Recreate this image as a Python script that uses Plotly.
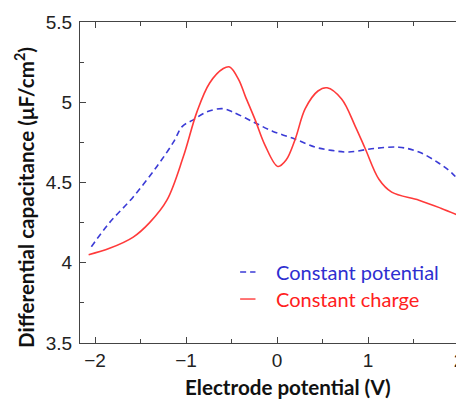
import plotly.graph_objects as go

# Constant potential (blue dashed)
pot_x = [-2.04, -1.84, -1.58, -1.32, -1.14, -1.04, -0.92, -0.77, -0.6, -0.49, -0.27,
         -0.05, 0.2, 0.42, 0.6, 0.79, 1.04, 1.34, 1.56, 1.78, 1.92, 2.06]
pot_y = [4.10, 4.25, 4.41, 4.60, 4.75, 4.85, 4.89, 4.94, 4.96, 4.94, 4.88,
         4.82, 4.77, 4.72, 4.70, 4.69, 4.71, 4.72, 4.69, 4.62, 4.56, 4.47]

# Constant charge (red solid)
chg_x = [-2.07, -1.84, -1.58, -1.40, -1.21, -1.03, -0.88, -0.74, -0.59, -0.52, -0.42,
         -0.35, -0.24, -0.13, 0.01, 0.1, 0.2, 0.31, 0.45, 0.55, 0.71, 0.86, 0.97,
         1.12, 1.26, 1.56, 1.8, 2.06]
chg_y = [4.05, 4.09, 4.16, 4.25, 4.39, 4.66, 4.94, 5.12, 5.21, 5.22, 5.14,
         5.04, 4.89, 4.73, 4.60, 4.64, 4.77, 4.96, 5.07, 5.09, 5.02, 4.85, 4.71,
         4.52, 4.44, 4.39, 4.34, 4.28]

series_names = ["Constant potential", "Constant charge"]
x_ticks = [-2, -1, 0, 1, 2]
y_ticks = [3.5, 4, 4.5, 5, 5.5]
y_tick_labels = ["3.5", "4", "4.5", "5", "5.5"]
x_title = "<b>Electrode potential (V)</b>"
y_title = "<b>Differential capacitance (μF/cm<sup>2</sup>)</b>"

BLUE = "#3b3bd6"
RED = "#ff3a3a"

fig = go.Figure()
fig.add_trace(go.Scatter(x=pot_x, y=pot_y, mode="lines", name=series_names[0],
                         line=dict(color=BLUE, width=1.6, dash="6px,4px",
                                   shape="spline", smoothing=1.0)))
fig.add_trace(go.Scatter(x=chg_x, y=chg_y, mode="lines", name=series_names[1],
                         line=dict(color=RED, width=1.6, shape="spline", smoothing=1.0)))

tickfont = dict(family="Liberation Sans, Arial, sans-serif", size=19, color="#222")
titlefont = dict(family="Lato, sans-serif", size=20.6, color="#111", weight="bold")

fig.update_xaxes(range=[-2.165, 2.055], tickvals=x_ticks, ticks="inside", ticklen=6,
                 tickwidth=1, tickcolor="#444", showline=True, linecolor="#444",
                 linewidth=1, mirror="ticks", showgrid=False, zeroline=False,
                 automargin=False, ticklabeloverflow="allow",
                 minor=dict(dtick=0.5, tick0=0, ticks="inside", ticklen=4,
                            tickcolor="#444"),
                 tickfont=tickfont, ticklabelstandoff=0)
fig.update_yaxes(range=[3.5, 5.5], tickvals=y_ticks, ticktext=y_tick_labels,
                 ticks="inside", ticklen=6, tickwidth=1, tickcolor="#444",
                 showline=True, linecolor="#444", linewidth=1, showgrid=False,
                 zeroline=False, automargin=False, ticklabeloverflow="allow",
                 minor=dict(dtick=0.25, tick0=3.5, ticks="inside", ticklen=4,
                            tickcolor="#444"),
                 tickfont=tickfont, ticklabelstandoff=3)

# Axis titles placed as annotations (offset from plot centre as in reference)
fig.add_annotation(xref="paper", yref="paper", x=0.542, y=-0.136, text=x_title,
                   showarrow=False, xanchor="center", yanchor="middle", font=titlefont,
                   borderpad=0)
fig.add_annotation(xref="paper", yref="paper", x=-0.143, y=0.452, text=y_title,
                   showarrow=False, xanchor="center", yanchor="middle", textangle=-90,
                   font=titlefont, borderpad=0)

# Legend drawn manually (short samples, coloured text)
legend_items = [(series_names[0], BLUE, "#2e2ed0", "dash", 0.221),
                (series_names[1], RED, "#ff2020", "solid", 0.137)]
for name, lc, tc, dash, yy in legend_items:
    fig.add_shape(type="line", xref="paper", yref="paper", x0=0.417, x1=0.457,
                  y0=yy, y1=yy, line=dict(color=lc, width=1.4,
                                          dash="6px,4px" if dash == "dash" else "solid"))
    fig.add_annotation(xref="paper", yref="paper", x=0.505, y=yy, text=name,
                       showarrow=False, xanchor="left", yanchor="middle",
                       font=dict(family="Lato, sans-serif", size=20, color=tc))

# The page adds an 8px body margin, so the figure is offset by 8px.
fig.update_layout(width=456, height=391, margin=dict(l=72, r=0, t=14, b=56),
                  paper_bgcolor="white", plot_bgcolor="white", showlegend=False)

fig.write_html("out.html")
